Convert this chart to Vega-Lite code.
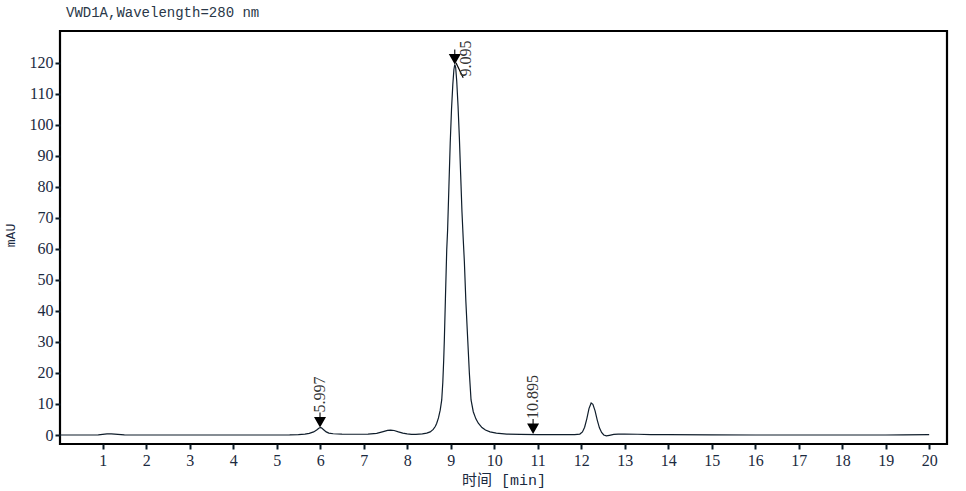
{
  "$schema": "https://vega.github.io/schema/vega-lite/v6.json",
  "autosize": "none",
  "width": 887,
  "height": 413,
  "padding": {"left": 60, "top": 31, "right": 19, "bottom": 47},
  "background": "white",
  "title": {
    "text": "VWD1A,Wavelength=280 nm",
    "anchor": "start",
    "frame": "group",
    "dx": 6,
    "offset": 11,
    "font": "Liberation Mono",
    "fontSize": 14,
    "fontWeight": "normal",
    "color": "#2a3848"
  },
  "config": {
    "view": {"stroke": "#000000", "strokeWidth": 2.2},
    "axis": {
      "grid": false,
      "domain": false,
      "tickColor": "#0b1a26",
      "tickWidth": 2,
      "tickSize": 5,
      "labelFont": "Liberation Serif",
      "labelFontSize": 16,
      "labelColor": "#1b2a40",
      "labelOverlap": false,
      "labelFlush": false
    }
  },
  "datasets": {
    "curve": [
      {"t": 0.02, "mAU": 0}, {"t": 0.5, "mAU": 0}, {"t": 0.9, "mAU": 0.05}, {"t": 1.0, "mAU": 0.2},
      {"t": 1.1, "mAU": 0.35}, {"t": 1.2, "mAU": 0.35}, {"t": 1.35, "mAU": 0.2}, {"t": 1.5, "mAU": 0.05},
      {"t": 1.8, "mAU": 0}, {"t": 3.0, "mAU": 0}, {"t": 4.0, "mAU": 0}, {"t": 5.0, "mAU": 0},
      {"t": 5.3, "mAU": 0.05}, {"t": 5.5, "mAU": 0.15}, {"t": 5.65, "mAU": 0.3}, {"t": 5.75, "mAU": 0.55},
      {"t": 5.85, "mAU": 1.0}, {"t": 5.92, "mAU": 1.6}, {"t": 5.97, "mAU": 2.2}, {"t": 6.0, "mAU": 2.4},
      {"t": 6.03, "mAU": 2.3}, {"t": 6.08, "mAU": 1.7}, {"t": 6.14, "mAU": 1.0}, {"t": 6.2, "mAU": 0.6},
      {"t": 6.3, "mAU": 0.4}, {"t": 6.5, "mAU": 0.3}, {"t": 6.8, "mAU": 0.25}, {"t": 7.1, "mAU": 0.3},
      {"t": 7.3, "mAU": 0.5}, {"t": 7.45, "mAU": 1.1}, {"t": 7.55, "mAU": 1.5}, {"t": 7.62, "mAU": 1.6},
      {"t": 7.7, "mAU": 1.45}, {"t": 7.8, "mAU": 1.0}, {"t": 7.9, "mAU": 0.6}, {"t": 8.0, "mAU": 0.35},
      {"t": 8.1, "mAU": 0.2}, {"t": 8.2, "mAU": 0.2}, {"t": 8.35, "mAU": 0.35}, {"t": 8.45, "mAU": 0.6},
      {"t": 8.53, "mAU": 1.0}, {"t": 8.6, "mAU": 1.8}, {"t": 8.65, "mAU": 2.8}, {"t": 8.68, "mAU": 3.8},
      {"t": 8.72, "mAU": 5.5}, {"t": 8.76, "mAU": 8.0}, {"t": 8.795, "mAU": 11.3}, {"t": 8.82, "mAU": 17},
      {"t": 8.84, "mAU": 24}, {"t": 8.855, "mAU": 30.6}, {"t": 8.88, "mAU": 44}, {"t": 8.91, "mAU": 59.7},
      {"t": 8.93, "mAU": 66}, {"t": 8.96, "mAU": 80}, {"t": 8.99, "mAU": 94}, {"t": 9.02, "mAU": 105},
      {"t": 9.05, "mAU": 113}, {"t": 9.075, "mAU": 117.8}, {"t": 9.095, "mAU": 119.4}, {"t": 9.115, "mAU": 118.5},
      {"t": 9.14, "mAU": 114}, {"t": 9.17, "mAU": 106}, {"t": 9.2, "mAU": 96}, {"t": 9.23, "mAU": 84},
      {"t": 9.26, "mAU": 72}, {"t": 9.29, "mAU": 62.9}, {"t": 9.315, "mAU": 56}, {"t": 9.35, "mAU": 43},
      {"t": 9.393, "mAU": 30.6}, {"t": 9.43, "mAU": 20}, {"t": 9.469, "mAU": 11.3}, {"t": 9.52, "mAU": 7.5},
      {"t": 9.58, "mAU": 5.2}, {"t": 9.636, "mAU": 3.8}, {"t": 9.72, "mAU": 2.4}, {"t": 9.8, "mAU": 1.6},
      {"t": 9.905, "mAU": 1.0}, {"t": 10.05, "mAU": 0.6}, {"t": 10.29, "mAU": 0.3}, {"t": 10.6, "mAU": 0.2},
      {"t": 11.0, "mAU": 0.15}, {"t": 11.5, "mAU": 0.1}, {"t": 11.85, "mAU": 0.1}, {"t": 11.97, "mAU": 0.3},
      {"t": 12.03, "mAU": 1.0}, {"t": 12.08, "mAU": 2.5}, {"t": 12.13, "mAU": 5.2}, {"t": 12.18, "mAU": 8.5},
      {"t": 12.23, "mAU": 10.3}, {"t": 12.27, "mAU": 9.9}, {"t": 12.32, "mAU": 7.8}, {"t": 12.37, "mAU": 4.8},
      {"t": 12.42, "mAU": 2.3}, {"t": 12.47, "mAU": 0.8}, {"t": 12.52, "mAU": 0.0}, {"t": 12.58, "mAU": -0.3},
      {"t": 12.65, "mAU": -0.1}, {"t": 12.75, "mAU": 0.2}, {"t": 12.85, "mAU": 0.3}, {"t": 13.0, "mAU": 0.3},
      {"t": 13.3, "mAU": 0.25}, {"t": 13.6, "mAU": 0.15}, {"t": 14.0, "mAU": 0.1}, {"t": 15.0, "mAU": 0.05},
      {"t": 16.0, "mAU": 0}, {"t": 17.0, "mAU": 0}, {"t": 18.0, "mAU": 0}, {"t": 19.0, "mAU": 0},
      {"t": 19.4, "mAU": 0.05}, {"t": 20.0, "mAU": 0.1}
    ],
    "peaks": [
      {"t": 5.997, "mAU": 2.4, "label": "5.997"},
      {"t": 9.095, "mAU": 119.4, "label": "9.095"},
      {"t": 10.895, "mAU": 0.3, "label": "10.895"}
    ]
  },
  "encoding": {
    "x": {
      "field": "t", "type": "quantitative",
      "scale": {"domain": [0.02, 20.41], "nice": false, "zero": false},
      "axis": {
        "values": [1,2,3,4,5,6,7,8,9,10,11,12,13,14,15,16,17,18,19,20],
        "labelPadding": 3,
        "title": "时间 [min]",
        "titleFont": "Liberation Mono, Noto Sans CJK SC",
        "titleFontSize": 15,
        "titleFontWeight": "normal",
        "titleColor": "#1b2a40",
        "titleBaseline": "middle",
        "titleY": 35
      }
    },
    "y": {
      "field": "mAU", "type": "quantitative",
      "scale": {"domain": [-2.9, 130.2], "nice": false, "zero": false},
      "axis": {
        "values": [0,10,20,30,40,50,60,70,80,90,100,110,120],
        "tickCount": 13,
        "labelPadding": 2,
        "labelOverlap": false,
        "title": "mAU",
        "titleFont": "Liberation Mono",
        "titleFontSize": 13,
        "titleFontWeight": "normal",
        "titleColor": "#1b2a40",
        "titleAngle": 270,
        "titleBaseline": "middle",
        "titleAlign": "center",
        "titleX": -50,
        "titleY": 204
      }
    }
  },
  "layer": [
    {
      "data": {"name": "curve"},
      "mark": {"type": "line", "color": "#0f1d2b", "strokeWidth": 1.2, "clip": true}
    },
    {
      "data": {"name": "peaks"},
      "mark": {
        "type": "point",
        "shape": "M0,1 L-1,-0.75 L1,-0.75 Z M-0.09,-0.75 L0.09,-0.75 L0.09,-1.5 L-0.09,-1.5 Z",
        "size": 144,
        "filled": true,
        "fill": "#000000",
        "strokeWidth": 0,
        "opacity": 1,
        "yOffset": -6
      }
    },
    {
      "data": {"name": "peaks"},
      "transform": [{"filter": "datum.label == '9.095'"}],
      "mark": {
        "type": "point",
        "shape": "M0.2,-0.3 L1.4,2.2",
        "size": 144,
        "filled": false,
        "stroke": "#000000",
        "strokeWidth": 1.2,
        "opacity": 1
      }
    },
    {
      "data": {"name": "peaks"},
      "transform": [{"filter": "datum.label != '9.095'"}],
      "mark": {
        "type": "text",
        "angle": 270,
        "align": "left",
        "baseline": "middle",
        "dx": 15,
        "font": "Liberation Serif",
        "fontSize": 16,
        "color": "#333333"
      },
      "encoding": {"text": {"field": "label"}}
    },
    {
      "data": {"name": "peaks"},
      "transform": [{"filter": "datum.label == '9.095'"}],
      "mark": {
        "type": "text",
        "angle": 270,
        "align": "left",
        "baseline": "middle",
        "dx": -12,
        "dy": 11,
        "font": "Liberation Serif",
        "fontSize": 16,
        "color": "#333333"
      },
      "encoding": {"text": {"field": "label"}}
    }
  ]
}
